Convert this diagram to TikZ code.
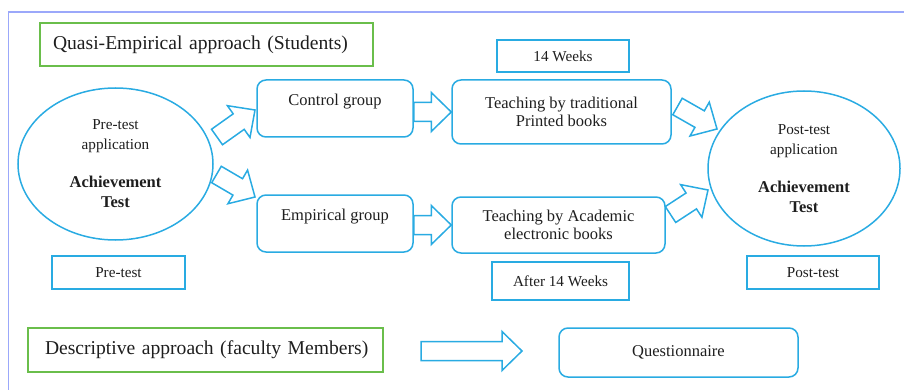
\documentclass[tikz,border=0pt]{standalone}
\usepackage{fontspec}
\setmainfont{Liberation Serif}
\usetikzlibrary{shapes.geometric,calc}
\definecolor{boxblue}{RGB}{41,171,226}
\definecolor{boxgreen}{RGB}{106,190,75}
\definecolor{framelav}{RGB}{155,168,250}
\definecolor{txt}{RGB}{30,30,30}
\newcommand{\blockarrow}[2]{%
  \draw[fat] ($(#1)!9.5pt!90:(#2)$)
    -- ($($(#2)!20pt!(#1)$)!9.5pt!90:(#2)$)
    -- ($($(#2)!20pt!(#1)$)!19.5pt!90:(#2)$)
    -- (#2)
    -- ($($(#2)!20pt!(#1)$)!19.5pt!-90:(#2)$)
    -- ($($(#2)!20pt!(#1)$)!9.5pt!-90:(#2)$)
    -- ($(#1)!9.5pt!-90:(#2)$) -- cycle;}
\begin{document}
\begin{tikzpicture}[x=1pt,y=-1pt,
    every node/.style={text=txt,inner sep=0pt},
    approach/.style={draw=boxgreen,line width=1.5pt,align=left,
      font=\fontsize{19.6}{24}\selectfont},
    tag/.style={draw=boxblue,line width=1.5pt,
      font=\fontsize{15.2}{19}\selectfont},
    stage/.style={draw=boxblue,line width=1.5pt,rounded corners=9pt,
      align=center,font=\fontsize{16.5}{18}\selectfont},
    test/.style={ellipse,draw=boxblue,line width=1.5pt,align=center,
      font=\fontsize{15.2}{20}\selectfont},
    fat/.style={draw=boxblue,line width=1.5pt,line join=miter}]
  \useasboundingbox (0,0) rectangle (904,390);
  \draw[framelav,line width=1.8pt] (904,12) -- (8.5,12) -- (8.5,390);

  \node[approach,text width=307pt,minimum height=43pt,inner xsep=13pt] (quasi) at (206.5,44.5) {\mbox{Quasi-Empirical approach (Students)}};
  \node[approach,text width=321pt,minimum height=44pt,inner xsep=17pt] (desc) at (205.5,350) {\mbox{Descriptive approach (faculty Members)}};

  \node[test,minimum width=195pt,minimum height=152pt] (pre) at (115.5,164)
    {Pre-test\\application\\[18pt]\bfseries\fontsize{16.5}{20}\selectfont Achievement\\\bfseries\fontsize{16.5}{20}\selectfont Test};
  \node[test,minimum width=192pt,minimum height=155pt] (post) at (804,168.5)
    {Post-test\\application\\[18pt]\bfseries\fontsize{16.5}{20}\selectfont Achievement\\\bfseries\fontsize{16.5}{20}\selectfont Test};

  \node[stage,minimum width=156pt,minimum height=57pt] (ctrl) at (335,108.5) {Control group\\~};
  \node[stage,minimum width=156pt,minimum height=57pt] (emp) at (335,223.5) {Empirical group\\~};
  \node[stage,minimum width=219pt,minimum height=64pt] (trad) at (561.5,112) {Teaching by traditional\\Printed books};
  \node[stage,minimum width=213pt,minimum height=56pt] (acad) at (558.5,225) {Teaching by Academic\\electronic books};
  \node[stage,minimum width=239pt,minimum height=49pt] (quest) at (678.5,352.5) {Questionnaire};

  \node[tag,minimum width=132pt,minimum height=32pt] (weeks) at (563,56) {14 Weeks};
  \node[tag,minimum width=137pt,minimum height=38pt] (after) at (560.5,281) {After 14 Weeks};
  \node[tag,minimum width=133pt,minimum height=33pt] (pretag) at (118.5,272.5) {Pre-test};
  \node[tag,minimum width=132pt,minimum height=33pt] (posttag) at (813,272.5) {Post-test};

  \coordinate (a1s) at (217,137);
  \coordinate (a1e) at (255,110);
  \coordinate (a2s) at (216.5,174.5);
  \coordinate (a2e) at (255,197);
  \coordinate (a5s) at (677.5,106.5);
  \coordinate (a5e) at (717,129);
  \coordinate (a6s) at (670.5,214.5);
  \coordinate (a6e) at (708,190);
  \coordinate (qs) at (421,351);
  \coordinate (qe) at (522,351);

  \begin{scope}
    \blockarrow{a1s}{a1e}
    \blockarrow{a2s}{a2e}
    \blockarrow{ctrl.east |- trad.west}{trad.west}
    \blockarrow{emp.east |- acad.west}{acad.west}
    \blockarrow{a5s}{a5e}
    \blockarrow{a6s}{a6e}
    \blockarrow{qs}{qe}
  \end{scope}
\end{tikzpicture}
\end{document}
